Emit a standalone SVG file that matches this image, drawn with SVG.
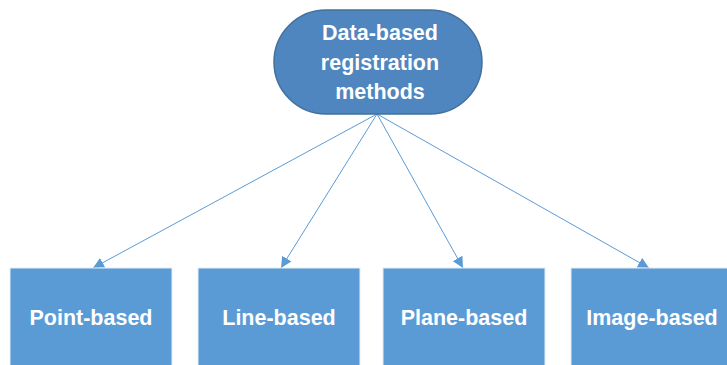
<svg xmlns="http://www.w3.org/2000/svg" width="727" height="365" viewBox="0 0 727 365">
<defs>
<style>
.box{fill:#5b9bd5;stroke:#e6eef7;stroke-width:1}
.root{fill:#4f86bf;stroke:#41719c;stroke-width:1.5}
.lbl{font-family:"Liberation Sans",Arial,sans-serif;font-weight:bold;font-size:21.5px;fill:#ffffff;text-anchor:middle}
.edge{stroke:#5b9bd5;stroke-width:1;fill:none;marker-end:url(#ah)}
</style>
<marker id="ah" viewBox="0 0 10 10" refX="10" refY="5" markerWidth="11" markerHeight="11" markerUnits="userSpaceOnUse" orient="auto">
<path d="M0,0 L10,5 L0,10 z" fill="#5b9bd5"/>
</marker>
</defs>
<rect width="727" height="365" fill="#ffffff"/>
<g id="connectors">
<line class="edge" x1="377" y1="114" x2="93" y2="268"/>
<line class="edge" x1="377" y1="114" x2="281" y2="268"/>
<line class="edge" x1="377" y1="114" x2="463" y2="268"/>
<line class="edge" x1="377" y1="114" x2="649" y2="268"/>
</g>
<g id="root">
<rect class="root" x="274" y="10" width="208" height="104" rx="52" ry="52"/>
<text class="lbl" x="380" y="40">Data-based</text>
<text class="lbl" x="380" y="70">registration</text>
<text class="lbl" x="380" y="99">methods</text>
</g>
<g id="point">
<rect class="box" x="10" y="268" width="162" height="100"/>
<text class="lbl" x="91" y="325">Point-based</text>
</g>
<g id="line">
<rect class="box" x="198" y="268" width="162" height="100"/>
<text class="lbl" x="279" y="325">Line-based</text>
</g>
<g id="plane">
<rect class="box" x="383" y="268" width="162" height="100"/>
<text class="lbl" x="464" y="325">Plane-based</text>
</g>
<g id="image">
<rect class="box" x="571" y="268" width="162" height="100"/>
<text class="lbl" x="652" y="325">Image-based</text>
</g>
</svg>
